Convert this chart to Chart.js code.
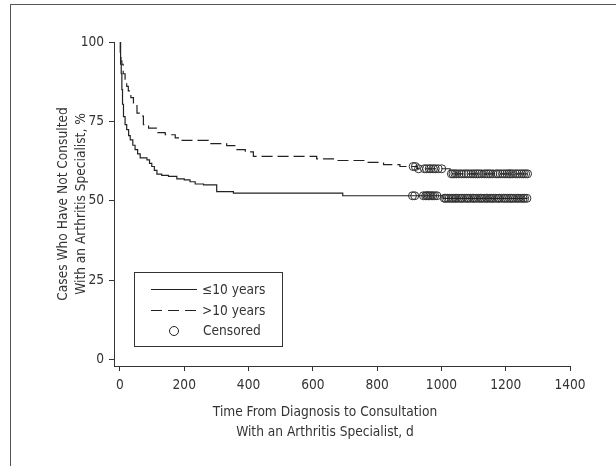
<!DOCTYPE html>
<html><head><meta charset="utf-8">
<script src="https://cdn.jsdelivr.net/npm/chart.js@4/dist/chart.umd.min.js"></script>
<style>
html,body{margin:0;padding:0;background:#fff;}
#wrap{position:relative;width:616px;height:466px;overflow:hidden;background:#fff;}
#frame{position:absolute;left:10px;top:4px;width:700px;height:600px;border-left:1px solid #555;border-top:1px solid #555;}
canvas{position:absolute;left:0;top:0;}
</style></head><body>
<div id="wrap"><div id="frame"></div><canvas id="c" width="616" height="466"></canvas></div>
<script>
const groupLabels = ['\u226410 years', '>10 years'];
const censoredLabel = 'Censored';
const xTitle = ['Time From Diagnosis to Consultation', 'With an Arthritis Specialist, d'];
const yTitle = ['Cases Who Have Not Consulted', 'With an Arthritis Specialist, %'];
const xTicks = [0, 200, 400, 600, 800, 1000, 1200, 1400];
const yTicks = [0, 25, 50, 75, 100];

// <=10 years (solid) Kaplan-Meier steps
const daysA = [0, 2, 4, 6, 8, 11, 16, 21, 27, 32, 40, 47, 55, 63, 84, 92, 99, 107, 115, 130, 151, 177, 200, 218, 234, 260, 301, 353, 693, 1005, 1268];
const survA = [100, 93, 90, 85, 80.4, 76.5, 74, 72.4, 70.5, 69.2, 67.5, 66.1, 64.8, 63.5, 62.9, 61.8, 60.8, 59.6, 58.4, 58.0, 57.7, 56.9, 56.6, 56.0, 55.3, 55.0, 52.9, 52.4, 51.6, 50.8, 50.8];
// >10 years (dashed)
const daysB = [0, 1, 3, 6, 10, 16, 21, 26, 34, 42, 53, 63, 73, 89, 115, 141, 172, 182, 275, 332, 364, 390, 415, 612, 675, 768, 820, 871, 925, 1027, 1268];
const survB = [100, 96, 94, 93, 90, 87.7, 86, 84.6, 82.5, 80.4, 77.6, 76.7, 74, 72.9, 71.5, 70.8, 69.8, 69.0, 68.0, 67.4, 66.1, 65.4, 64.0, 63.2, 62.7, 62.1, 61.4, 60.8, 60.1, 58.5, 58.5];
// censoring times
const censA = [910, 917, 944, 951, 955, 959, 963, 968, 973, 979, 986, 1009, 1013, 1019, 1024, 1031, 1036, 1043, 1047, 1054, 1061, 1065, 1072, 1079, 1083, 1090, 1097, 1101, 1108, 1115, 1121, 1126, 1133, 1140, 1144, 1151, 1157, 1162, 1169, 1176, 1180, 1187, 1194, 1199, 1205, 1212, 1218, 1223, 1230, 1236, 1241, 1248, 1254, 1259, 1266];
const censB = [912, 919, 929, 947, 954, 962, 967, 975, 981, 990, 1001, 1031, 1036, 1042, 1047, 1055, 1062, 1070, 1077, 1084, 1092, 1099, 1106, 1112, 1118, 1125, 1134, 1140, 1146, 1152, 1160, 1170, 1176, 1183, 1190, 1197, 1204, 1210, 1216, 1222, 1230, 1236, 1243, 1250, 1256, 1262, 1268];

function survivalAt(days, surv, t) {
  let v = surv[0];
  for (let i = 0; i < days.length; i++) { if (days[i] <= t) v = surv[i]; }
  return v;
}
const pts = (d, s) => d.map((x, i) => ({x: x, y: s[i]}));
const cpts = (c, d, s) => c.map(t => ({x: t, y: survivalAt(d, s, t)}));

const FONT = "'DejaVu Sans Condensed', 'Liberation Sans Narrow', sans-serif";
const FS = 13.6;
const INK = '#222';

const overlay = {
  id: 'overlay',
  afterDraw(chart) {
    const ctx = chart.ctx;
    ctx.save();
    ctx.fillStyle = '#333';
    ctx.font = FS + 'px ' + FONT;
    ctx.textAlign = 'center';
    ctx.textBaseline = 'middle';
    ctx.fillText(xTitle[0], 325, 412);
    ctx.fillText(xTitle[1], 325, 432);
    // legend
    ctx.strokeStyle = '#333';
    ctx.lineWidth = 1;
    ctx.strokeRect(134.5, 272.5, 148, 74);
    ctx.strokeStyle = INK;
    ctx.lineWidth = 1.2;
    ctx.beginPath(); ctx.moveTo(151, 289.5); ctx.lineTo(197, 289.5); ctx.stroke();
    ctx.setLineDash([11, 6]);
    ctx.beginPath(); ctx.moveTo(151, 310.5); ctx.lineTo(197, 310.5); ctx.stroke();
    ctx.setLineDash([]);
    ctx.lineWidth = 1;
    ctx.beginPath(); ctx.arc(174, 331, 4.5, 0, Math.PI * 2); ctx.stroke();
    ctx.textAlign = 'left';
    ctx.fillText(groupLabels[0], 202, 290);
    ctx.fillText(groupLabels[1], 202, 311);
    ctx.fillText(censoredLabel, 203, 331);
    ctx.restore();
  }
};

new Chart(document.getElementById('c'), {
  type: 'scatter',
  data: {
    datasets: [
      {label: groupLabels[0], data: pts(daysA, survA), showLine: true, stepped: 'before', borderColor: INK, borderWidth: 1.2, pointRadius: 0, fill: false},
      {label: groupLabels[1], data: pts(daysB, survB), showLine: true, stepped: 'before', borderColor: INK, borderWidth: 1.2, borderDash: [11, 5], pointRadius: 0, fill: false},
      {label: censoredLabel, data: cpts(censA, daysA, survA), showLine: false, pointRadius: 4, pointBorderWidth: 1, pointBorderColor: '#333', pointBackgroundColor: 'rgba(0,0,0,0)'},
      {label: censoredLabel, data: cpts(censB, daysB, survB), showLine: false, pointRadius: 4, pointBorderWidth: 1, pointBorderColor: '#333', pointBackgroundColor: 'rgba(0,0,0,0)'}
    ]
  },
  options: {
    responsive: false, animation: false, devicePixelRatio: 1,
    layout: {padding: {left: 0, top: 42, right: 46, bottom: 0}},
    plugins: {legend: {display: false}, tooltip: {enabled: false}},
    scales: {
      x: {
        type: 'linear', min: -18.5, max: 1400,
        afterBuildTicks: s => { s.ticks = xTicks.map(v => ({value: v})); },
        afterFit: s => { s.height = 100; },
        ticks: {font: {family: FONT, size: FS}, color: '#333', padding: 6, maxRotation: 0, autoSkip: false, callback: v => String(v)},
        grid: {drawOnChartArea: false, drawTicks: true, tickLength: 5, color: '#333', lineWidth: 1},
        border: {display: true, color: '#333', width: 1}
      },
      y: {
        type: 'linear', min: -2, max: 100,
        afterBuildTicks: s => { s.ticks = yTicks.map(v => ({value: v})); },
        afterFit: s => { s.width = 114; },
        ticks: {font: {family: FONT, size: FS}, color: '#333', padding: 5, autoSkip: false, callback: v => String(v)},
        grid: {drawOnChartArea: false, drawTicks: true, tickLength: 5, color: '#333', lineWidth: 1},
        border: {display: true, color: '#333', width: 1},
        title: {display: true, text: yTitle, font: {family: FONT, size: FS, lineHeight: 1.3}, color: '#333', padding: {top: 55, bottom: 0}}
      }
    }
  },
  plugins: [overlay]
});
</script>
</body></html>
